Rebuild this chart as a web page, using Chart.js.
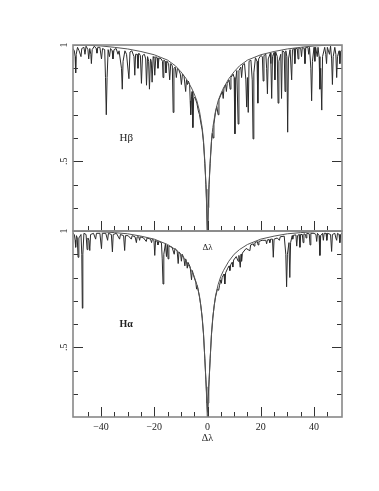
<!DOCTYPE html>
<html>
<head>
<meta charset="utf-8">
<script src="https://cdn.jsdelivr.net/npm/chart.js@4.4.1/dist/chart.umd.min.js"></script>
<style>
  html, body { margin: 0; padding: 0; background: #fff; }
  #wrap { position: relative; width: 379px; height: 491px; }
  #wrap canvas { position: absolute; left: 0; top: 0; }
</style>
</head>
<body>
<div id="wrap">
  <canvas id="hbeta" width="379" height="491"></canvas>
  <canvas id="halpha" width="379" height="491"></canvas>
</div>
<script>
// axis labels
var xTickValues = [-40, -20, 0, 20, 40];
var xTickLabels = ['\u221240', '\u221220', '0', '20', '40'];
var yTickValues = [1, 0.5];
var yTickLabels = ['1', '.5'];

// H beta: smooth profile
var hbProfile = [
  [-50.5, 1.0], [-45, 0.999], [-40, 0.996], [-35, 0.99], [-30, 0.983], [-25, 0.972],
  [-20, 0.958], [-15, 0.935], [-12, 0.91], [-10, 0.885], [-8, 0.855], [-6, 0.815],
  [-5, 0.79], [-4, 0.76], [-3, 0.715], [-2, 0.645], [-1.5, 0.59], [-1, 0.5],
  [-0.5, 0.38], [-0.25, 0.3], [0, 0.17], [0.25, 0.3], [0.5, 0.38], [1, 0.5],
  [1.5, 0.59], [2, 0.645], [3, 0.715], [4, 0.76], [5, 0.79], [6, 0.815], [8, 0.855],
  [10, 0.885], [12, 0.91], [15, 0.935], [20, 0.958], [25, 0.972], [30, 0.983],
  [35, 0.99], [40, 0.996], [45, 0.999], [50.5, 1.0]
];

// H beta: observed spectrum
var hbSpectrum = [
  [-50.5, 0.985], [-50.0, 0.975], [-49.7, 0.95], [-49.5, 0.88], [-49.3, 0.96], [-48.8, 0.99],
  [-48.2, 0.975], [-47.5, 0.95], [-47.2, 0.985], [-46.4, 0.99], [-46.0, 0.96], [-45.6, 0.995],
  [-44.9, 0.98], [-44.6, 0.94], [-44.2, 0.985], [-43.8, 0.96], [-43.6, 0.92], [-43.3, 0.98],
  [-42.5, 0.995], [-41.8, 0.985], [-41.5, 0.965], [-41.2, 0.99], [-40.4, 0.99], [-39.8, 0.94],
  [-39.4, 0.985], [-38.6, 0.98], [-38.3, 0.86], [-38.0, 0.70], [-37.7, 0.86], [-37.3, 0.98],
  [-36.8, 0.95], [-36.4, 0.985], [-35.8, 0.975], [-35.5, 0.94], [-35.1, 0.98], [-34.3, 0.985],
  [-33.6, 0.96], [-33.2, 0.975], [-32.3, 0.9], [-32.0, 0.81], [-31.7, 0.93], [-31.0, 0.975],
  [-30.4, 0.96], [-29.5, 0.855], [-29.1, 0.97], [-28.4, 0.975], [-27.6, 0.95], [-27.3, 0.87],
  [-27.0, 0.96], [-26.4, 0.96], [-26.1, 0.90], [-25.8, 0.965], [-25.2, 0.955], [-24.8, 0.835],
  [-24.4, 0.955], [-23.7, 0.96], [-23.2, 0.94], [-22.9, 0.827], [-22.5, 0.95], [-22.1, 0.93],
  [-21.8, 0.81], [-21.4, 0.94], [-21.1, 0.93], [-20.8, 0.84], [-20.4, 0.95], [-20.1, 0.945],
  [-19.8, 0.87], [-19.4, 0.95], [-18.9, 0.945], [-18.6, 0.90], [-18.2, 0.945], [-17.4, 0.94],
  [-16.9, 0.93], [-16.7, 0.86], [-16.4, 0.935], [-15.9, 0.93], [-15.6, 0.88], [-15.2, 0.93],
  [-14.6, 0.92], [-14.2, 0.85], [-13.8, 0.92], [-13.2, 0.91], [-12.9, 0.71], [-12.6, 0.9],
  [-12.1, 0.905], [-11.7, 0.86], [-11.3, 0.9], [-10.7, 0.89], [-10.2, 0.875], [-9.8, 0.83],
  [-9.4, 0.875], [-8.8, 0.865], [-8.2, 0.80], [-7.9, 0.85], [-7.5, 0.83], [-7.2, 0.845],
  [-6.7, 0.83], [-6.5, 0.76], [-6.3, 0.70], [-6.0, 0.78], [-5.8, 0.80], [-5.5, 0.645],
  [-5.2, 0.77], [-4.7, 0.775], [-4.0, 0.75], [-3.5, 0.72], [-3.0, 0.70], [-2.5, 0.665],
  [-2.0, 0.635], [-1.5, 0.58], [-1.0, 0.49], [-0.6, 0.4], [-0.3, 0.3], [0, 0.15],
  [0.3, 0.3], [0.6, 0.4], [1.0, 0.49], [1.5, 0.585], [1.8, 0.62], [2.1, 0.6],
  [2.4, 0.66], [3.0, 0.71], [3.5, 0.735], [4.0, 0.70], [4.3, 0.765], [5.0, 0.785],
  [5.6, 0.80], [5.9, 0.77], [6.2, 0.815], [6.8, 0.83], [7.1, 0.80], [7.4, 0.835],
  [8.1, 0.85], [8.5, 0.81], [8.8, 0.86], [9.6, 0.875], [10.0, 0.86], [10.3, 0.618],
  [10.6, 0.85], [11.0, 0.89], [11.5, 0.66], [11.8, 0.89], [12.5, 0.905], [12.8, 0.86],
  [13.2, 0.915], [13.9, 0.92], [14.4, 0.85], [14.7, 0.733], [15.0, 0.86], [15.3, 0.71],
  [15.6, 0.93], [16.3, 0.935], [16.8, 0.85], [17.1, 0.596], [17.4, 0.88], [18.0, 0.945],
  [18.6, 0.93], [18.9, 0.75], [19.2, 0.94], [20.0, 0.955], [20.6, 0.95], [20.9, 0.845],
  [21.2, 0.955], [21.9, 0.96], [22.2, 0.9], [22.5, 0.79], [22.8, 0.94], [23.6, 0.965],
  [23.8, 0.92], [24.1, 0.77], [24.4, 0.95], [25.0, 0.968], [25.3, 0.85], [25.6, 0.97],
  [26.2, 0.95], [26.5, 0.75], [26.8, 0.93], [27.5, 0.96], [27.8, 0.77], [28.1, 0.975],
  [28.8, 0.97], [29.1, 0.80], [29.4, 0.975], [29.8, 0.95], [30.1, 0.625], [30.4, 0.94],
  [31.0, 0.98], [31.6, 0.85], [31.9, 0.98], [32.5, 0.985], [32.8, 0.92], [33.1, 0.985],
  [33.7, 0.985], [34.0, 0.94], [34.3, 0.988], [35.0, 0.985], [35.3, 0.95], [35.6, 0.99],
  [36.3, 0.985], [36.6, 0.92], [36.9, 0.99], [37.7, 0.99], [38.0, 0.96], [38.3, 0.99],
  [38.8, 0.9], [39.1, 0.76], [39.4, 0.93], [40.0, 0.99], [40.3, 0.93], [40.6, 0.99],
  [41.2, 0.95], [41.5, 0.99], [41.9, 0.95], [42.2, 0.81], [42.5, 0.9], [42.9, 0.72],
  [43.2, 0.95], [44.0, 0.99], [44.4, 0.96], [44.7, 0.92], [45.0, 0.99], [45.8, 0.96],
  [46.2, 0.995], [46.6, 0.94], [46.9, 0.83], [47.2, 0.95], [47.8, 0.99], [48.2, 0.96],
  [48.5, 0.86], [48.8, 0.95], [49.4, 0.975], [49.7, 0.92], [50.0, 0.97], [50.5, 0.98]
];

// H alpha: smooth profile
var haProfile = [
  [-50.5, 1.0], [-45, 0.999], [-40, 0.997], [-35, 0.993], [-30, 0.988], [-25, 0.978],
  [-20, 0.965], [-15, 0.942], [-12, 0.92], [-10, 0.9], [-8, 0.87], [-6, 0.83],
  [-5, 0.805], [-4, 0.77], [-3, 0.72], [-2, 0.63], [-1.5, 0.56], [-1, 0.45],
  [-0.5, 0.33], [-0.25, 0.26], [0, 0.17], [0.25, 0.26], [0.5, 0.33], [1, 0.45],
  [1.5, 0.56], [2, 0.63], [3, 0.72], [4, 0.77], [5, 0.805], [6, 0.83], [8, 0.87],
  [10, 0.9], [12, 0.92], [15, 0.942], [20, 0.965], [25, 0.978], [30, 0.988],
  [35, 0.993], [40, 0.997], [45, 0.999], [50.5, 1.0]
];

// H alpha: observed spectrum
var haSpectrum = [
  [-50.5, 0.99], [-50.0, 0.985], [-49.7, 0.96], [-49.5, 0.93], [-49.2, 0.98], [-48.9, 0.97],
  [-48.6, 0.887], [-48.3, 0.97], [-47.5, 0.985], [-47.2, 0.9], [-47.0, 0.668], [-46.8, 0.9],
  [-46.4, 0.99], [-45.6, 0.985], [-45.2, 0.92], [-44.9, 0.97], [-44.5, 0.96], [-44.2, 0.916],
  [-43.9, 0.985], [-42.8, 0.99], [-42.0, 0.965], [-41.7, 0.99], [-40.4, 0.99], [-39.8, 0.924],
  [-39.5, 0.99], [-38.2, 0.99], [-37.5, 0.96], [-37.2, 0.99], [-36.1, 0.985], [-35.7, 0.91],
  [-35.4, 0.985], [-34.2, 0.99], [-33.0, 0.965], [-32.7, 0.985], [-31.5, 0.98], [-31.1, 0.916],
  [-30.8, 0.98], [-29.8, 0.98], [-28.6, 0.965], [-28.3, 0.98], [-27.2, 0.975], [-26.7, 0.95],
  [-26.4, 0.975], [-25.8, 0.975], [-25.5, 0.96], [-25.2, 0.975], [-24.0, 0.97], [-23.0, 0.955],
  [-22.7, 0.97], [-21.4, 0.965], [-21.0, 0.95], [-20.7, 0.965], [-20.1, 0.96], [-19.8, 0.895],
  [-19.5, 0.96], [-18.9, 0.955], [-18.6, 0.94], [-18.3, 0.955], [-17.3, 0.95], [-17.0, 0.88],
  [-16.7, 0.772], [-16.4, 0.9], [-15.8, 0.945], [-15.4, 0.89], [-15.1, 0.94], [-14.8, 0.88],
  [-14.5, 0.935], [-13.3, 0.93], [-12.5, 0.9], [-12.2, 0.925], [-11.4, 0.915], [-11.0, 0.86],
  [-10.7, 0.91], [-10.1, 0.9], [-9.8, 0.87], [-9.5, 0.9], [-8.9, 0.885], [-8.5, 0.85],
  [-8.2, 0.88], [-7.9, 0.87], [-7.6, 0.84], [-7.3, 0.865], [-6.5, 0.845], [-6.0, 0.79],
  [-5.7, 0.83], [-5.0, 0.8], [-4.4, 0.78], [-4.1, 0.75], [-3.8, 0.765], [-3.0, 0.715],
  [-2.5, 0.68], [-2.0, 0.625], [-1.5, 0.555], [-1.0, 0.45], [-0.6, 0.36], [-0.3, 0.29],
  [0, 0.22], [0.3, 0.29], [0.6, 0.36], [1.0, 0.45], [1.5, 0.555], [2.0, 0.625],
  [2.5, 0.68], [3.0, 0.715], [3.7, 0.75], [4.2, 0.745], [4.5, 0.765], [5.0, 0.79],
  [5.2, 0.775], [5.5, 0.8], [6.2, 0.815], [6.5, 0.772], [6.8, 0.82], [7.6, 0.84],
  [8.1, 0.85], [8.4, 0.83], [8.7, 0.855], [9.2, 0.865], [9.5, 0.845], [9.8, 0.875],
  [10.8, 0.89], [11.5, 0.87], [11.8, 0.895], [12.3, 0.844], [12.6, 0.9], [12.8, 0.87],
  [13.1, 0.905], [14.5, 0.925], [15.9, 0.915], [16.2, 0.94], [17.2, 0.945], [17.5, 0.935],
  [17.8, 0.95], [18.7, 0.955], [19.0, 0.94], [19.3, 0.955], [20.5, 0.96], [21.9, 0.96],
  [22.2, 0.945], [22.5, 0.962], [23.1, 0.963], [23.4, 0.95], [23.7, 0.965], [24.4, 0.965],
  [24.7, 0.887], [25.0, 0.965], [26.2, 0.97], [27.0, 0.96], [27.3, 0.975], [28.8, 0.978],
  [29.4, 0.9], [29.7, 0.76], [30.0, 0.9], [30.6, 0.95], [30.9, 0.80], [31.2, 0.95],
  [31.8, 0.98], [32.0, 0.965], [32.3, 0.982], [33.2, 0.983], [33.5, 0.935], [33.8, 0.98],
  [34.4, 0.985], [34.7, 0.93], [35.0, 0.985], [35.6, 0.985], [35.9, 0.95], [36.2, 0.988],
  [36.8, 0.985], [37.0, 0.97], [37.3, 0.99], [38.2, 0.988], [38.5, 0.94], [38.8, 0.99],
  [40.0, 0.99], [40.7, 0.985], [41.0, 0.955], [41.3, 0.99], [41.9, 0.98], [42.2, 0.895],
  [42.5, 0.98], [43.2, 0.99], [43.5, 0.96], [43.8, 0.99], [44.5, 0.99], [44.8, 0.96],
  [45.1, 0.99], [46.2, 0.985], [46.6, 0.912], [46.9, 0.985], [47.8, 0.99], [48.2, 0.97],
  [48.5, 0.96], [48.8, 0.99], [49.4, 0.985], [49.7, 0.95], [50.0, 0.985], [50.5, 0.99]
];

var serif = '"Liberation Serif", "DejaVu Serif", serif';

function toPoints(arr) {
  return arr.map(function (p) { return { x: p[0], y: p[1] }; });
}

// frame, inward ticks and labels, all placed through the chart scales
function framePlugin(panelLabel, showXLabels) {
  return {
    id: 'frame',
    afterDraw: function (chart) {
      var ctx = chart.ctx;
      var a = chart.chartArea;
      var xs = chart.scales.x;
      var ys = chart.scales.y;
      ctx.save();

      // ticks
      ctx.strokeStyle = '#333';
      ctx.lineWidth = 1;
      ctx.beginPath();
      for (var v = -45; v <= 45; v += 5) {
        var px = Math.round(xs.getPixelForValue(v)) + 0.5;
        var len = (v % 20 === 0) ? 10 : 5;
        ctx.moveTo(px, a.bottom);
        ctx.lineTo(px, a.bottom - len);
      }
      for (var k = 3; k <= 9; k++) {
        var py = Math.round(ys.getPixelForValue(k / 10)) + 0.5;
        var l = (k === 5) ? 10 : 5;
        ctx.moveTo(a.left, py);
        ctx.lineTo(a.left + l, py);
        ctx.moveTo(a.right, py);
        ctx.lineTo(a.right - l, py);
      }
      ctx.stroke();

      // frame
      ctx.strokeStyle = '#888';
      ctx.lineWidth = 1.6;
      ctx.strokeRect(a.left, a.top, a.right - a.left, a.bottom - a.top);

      // y labels, rotated
      ctx.fillStyle = '#222';
      ctx.font = '10px ' + serif;
      ctx.textAlign = 'center';
      ctx.textBaseline = 'middle';
      for (var i = 0; i < yTickValues.length; i++) {
        ctx.save();
        ctx.translate(a.left - 9, ys.getPixelForValue(yTickValues[i]));
        ctx.rotate(-Math.PI / 2);
        ctx.fillText(yTickLabels[i], 0, 0);
        ctx.restore();
      }

      // panel label
      ctx.font = panelLabel.font;
      ctx.fillText(panelLabel.text, xs.getPixelForValue(-30.5), ys.getPixelForValue(0.6));

      if (showXLabels) {
        ctx.font = '10px ' + serif;
        for (var j = 0; j < xTickValues.length; j++) {
          ctx.fillText(xTickLabels[j], xs.getPixelForValue(xTickValues[j]), a.bottom + 10);
        }
        ctx.fillText('\u0394\u03bb', xs.getPixelForValue(0), a.bottom + 21);
        ctx.font = '9px ' + serif;
        ctx.fillText('\u0394\u03bb', xs.getPixelForValue(0), ys.getPixelForValue(0.927));
      }
      ctx.restore();
    }
  };
}

function makePanel(id, profile, spectrum, pad, label, showXLabels) {
  var canvas = document.getElementById(id);
  return new Chart(canvas.getContext('2d'), {
    type: 'line',
    data: {
      datasets: [
        {
          data: toPoints(profile),
          borderColor: '#555',
          borderWidth: 1,
          pointRadius: 0,
          tension: 0
        },
        {
          data: toPoints(spectrum),
          borderColor: '#2a2a2a',
          borderWidth: 1,
          pointRadius: 0,
          tension: 0
        }
      ]
    },
    options: {
      responsive: false,
      animation: false,
      events: [],
      layout: { padding: pad },
      plugins: { legend: { display: false }, tooltip: { enabled: false } },
      scales: {
        x: { type: 'linear', min: -50.5, max: 50.5, display: false },
        y: { type: 'linear', min: 0.2, max: 1.0, display: false }
      }
    },
    plugins: [framePlugin(label, showXLabels)]
  });
}

makePanel('hbeta', hbProfile, hbSpectrum,
  { left: 73, right: 37, top: 45, bottom: 260 },
  { text: 'H\u03b2', font: '11px ' + serif }, false);

makePanel('halpha', haProfile, haSpectrum,
  { left: 73, right: 37, top: 231, bottom: 74 },
  { text: 'H\u03b1', font: 'bold 10px ' + serif }, true);
</script>
</body>
</html>
